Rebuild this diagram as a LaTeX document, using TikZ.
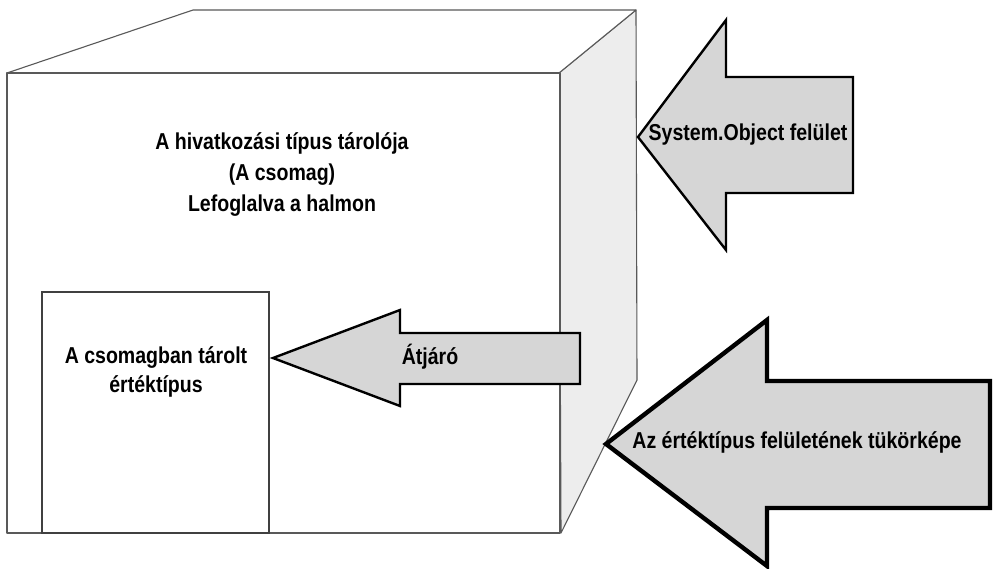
\documentclass[tikz,border=0pt]{standalone}
\usepackage{fontspec}
\setmainfont{Liberation Sans}[FakeStretch=0.85]
\usepackage{tikz}

\begin{document}
\begin{tikzpicture}[x=1pt, y=-1pt]
  \tikzset{cubeline/.style={draw=black!65, line width=1.1pt, line join=round},
    blockarrow/.style={draw=black, fill=black!16, line width=2.4pt, line join=miter},
    lbl/.style={font=\bfseries\fontsize{23}{31}\selectfont, align=center, inner sep=0pt}}
  \useasboundingbox (0,0) rectangle (996,568);
  % cube
  \fill[white] (0,0) rectangle (996,568);
  \draw[cubeline, fill=black!7] (559,73) -- (636,10) -- (637,380) -- (561,533) -- cycle;
  \draw[cubeline, fill=white] (7,73) -- (193,10) -- (636,10) -- (559,73) -- cycle;
  \draw[cubeline, fill=white] (7,73) rectangle (560,533);
  \node[lbl] (heap) at (282,174) {A hivatkozási típus tárolója\\(A csomag)\\Lefoglalva a halmon};
  % boxed value type
  \draw[draw=black!75, line width=1.5pt] (42,292) rectangle (269,533);
  \node[lbl, font=\bfseries\fontsize{23}{29}\selectfont] (boxed) at (156,372) {A csomagban tárolt\\értéktípus};
  % arrows
  \draw[blockarrow] (638,137) -- (726,20) -- (726,77) -- (853,77) -- (853,193)
    -- (726,193) -- (726,250) -- cycle;
  \node[lbl] (sysobj) at (748,135) {System.Object felület};
  \draw[blockarrow] (273,358) -- (400,310) -- (400,333) -- (580,333) -- (580,384)
    -- (400,384) -- (400,406) -- cycle;
  \node[lbl] (gate) at (430,357) {Átjáró};
  \draw[blockarrow, line width=4.4pt] (606,444) -- (767,320) -- (767,381) -- (990,381)
    -- (990,508) -- (767,508) -- (767,566) -- cycle;
  \node[lbl] (mirror) at (797,442) {Az értéktípus felületének tükörképe};
\end{tikzpicture}
\end{document}
